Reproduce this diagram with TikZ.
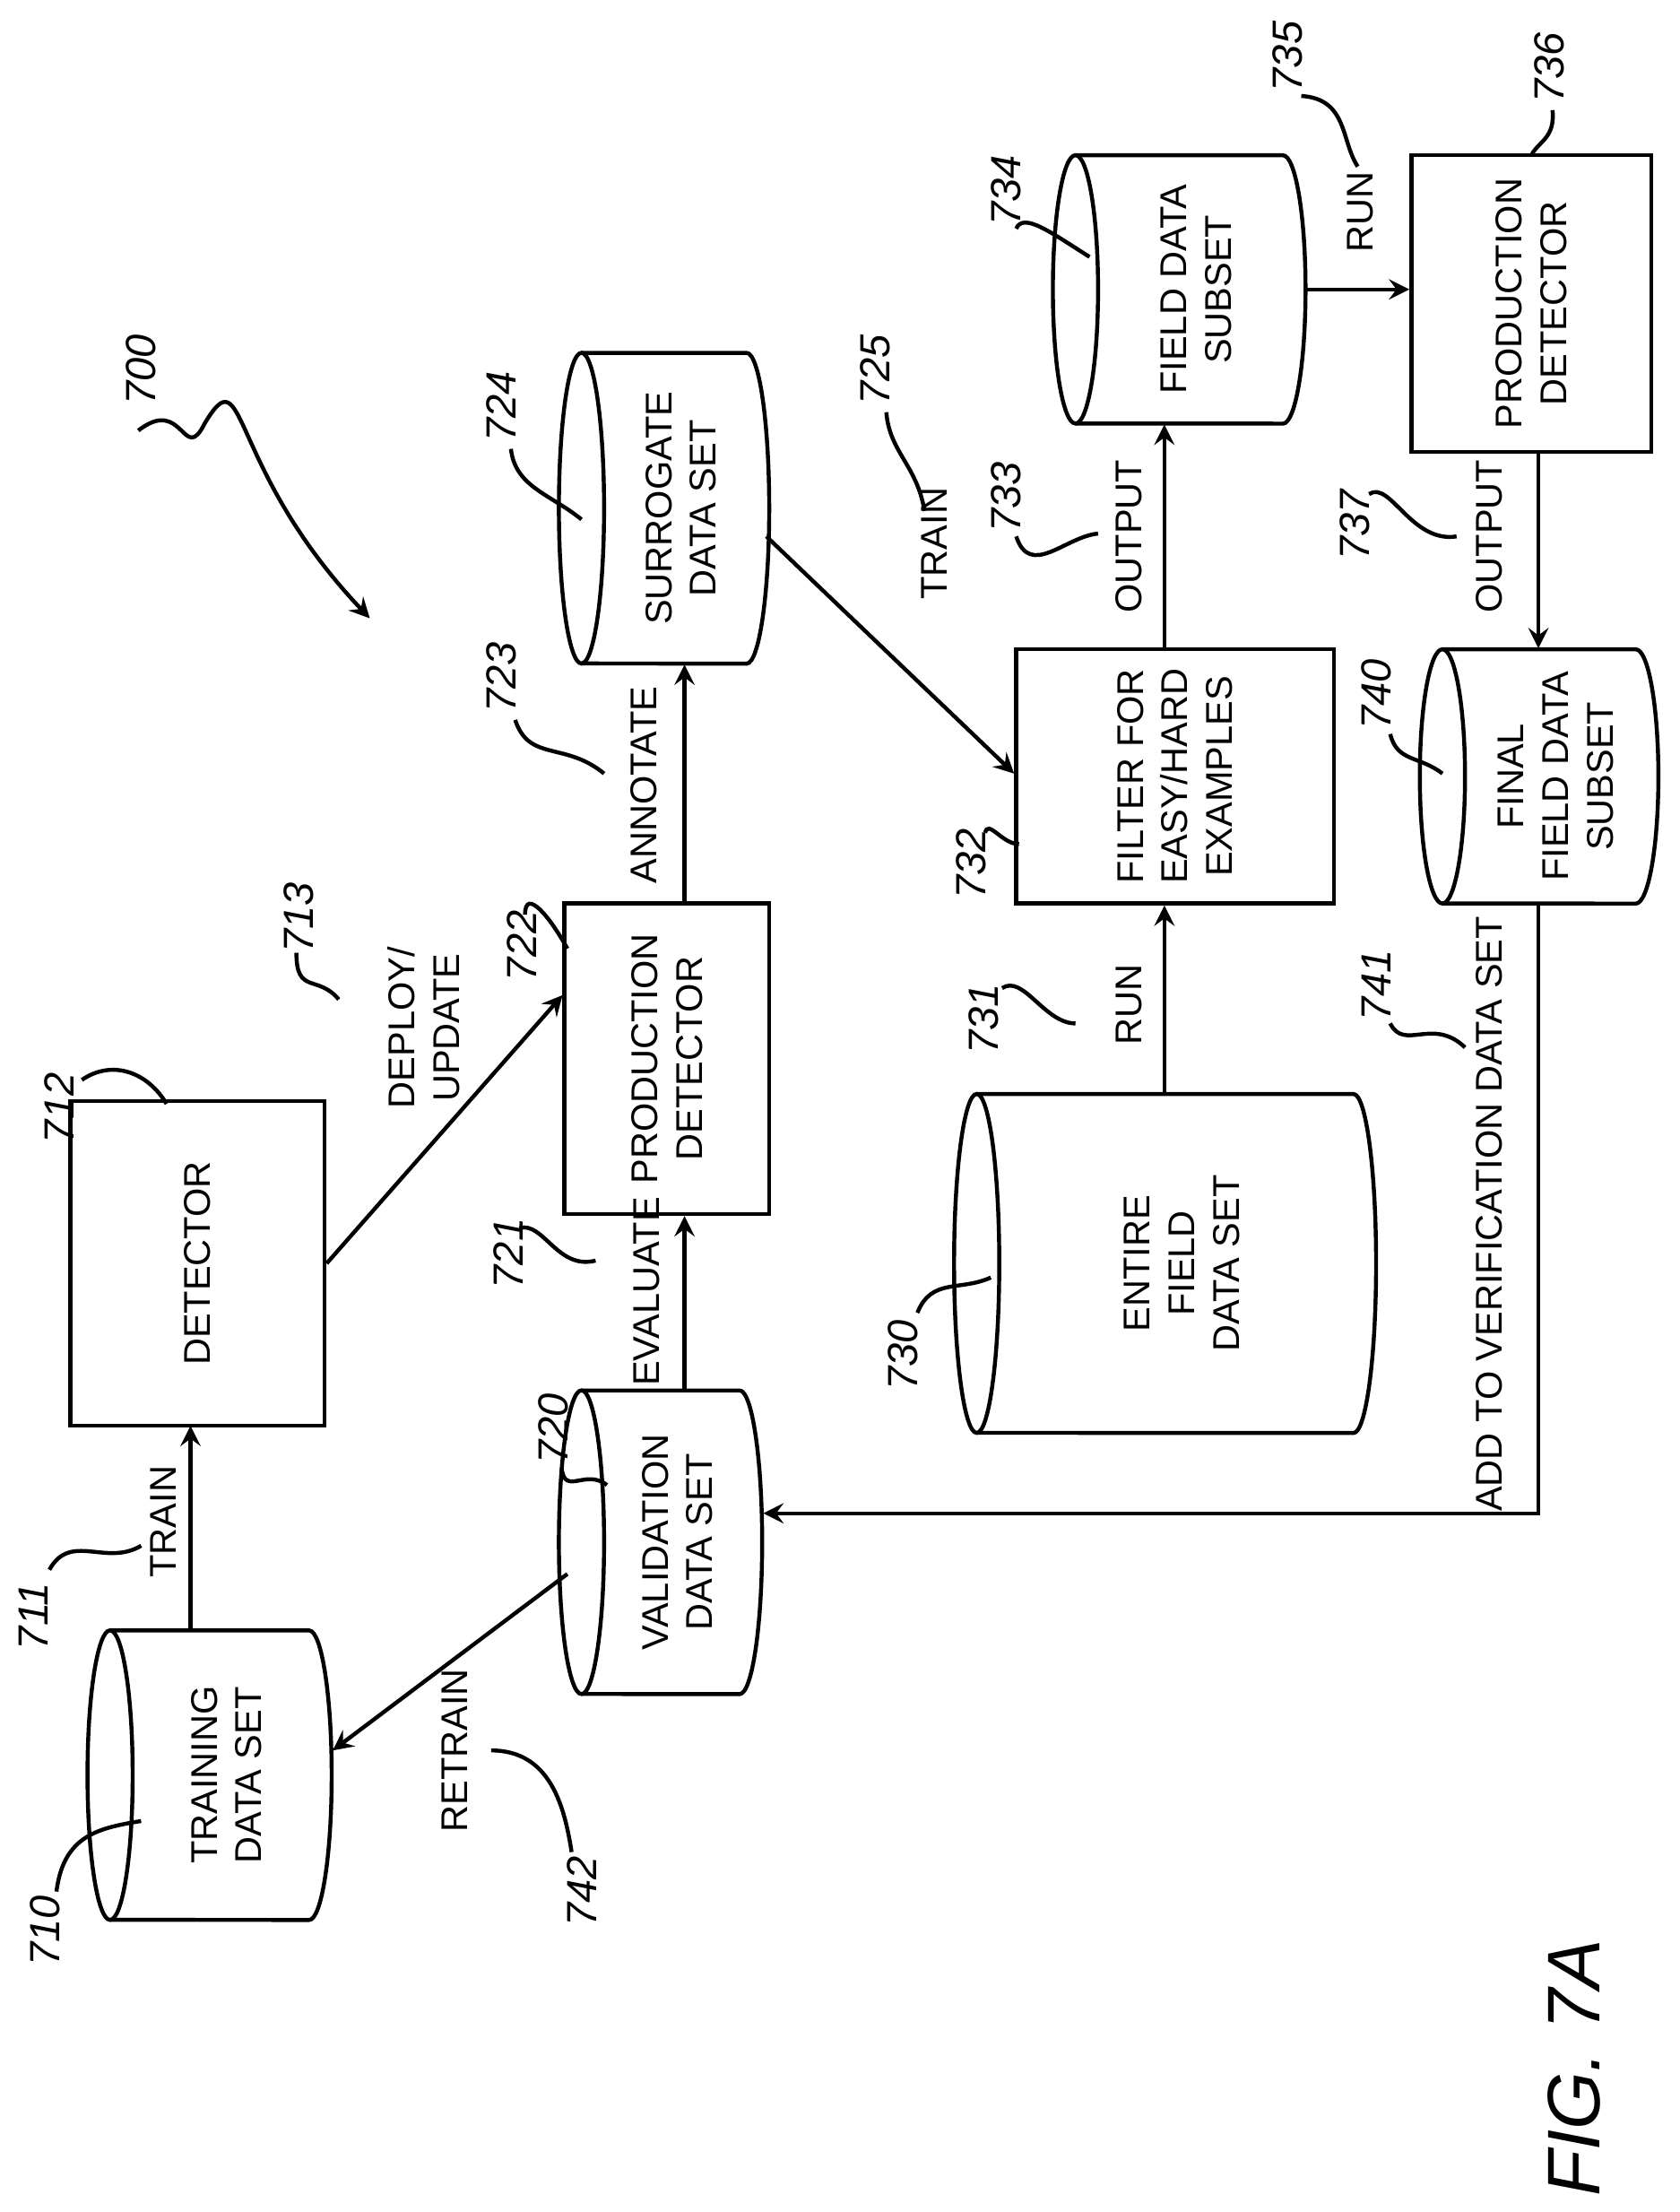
\documentclass[tikz,border=0pt]{standalone}
\usepackage{fontspec}
\setmainfont{Liberation Sans}
\usetikzlibrary{arrows,positioning}
\tikzstyle{arrow} = [thick,->,>=stealth]
\tikzstyle{lbl} = [rotate=90,align=center,font=\fontsize{7.5}{9}\selectfont]
\tikzstyle{num} = [rotate=90,font=\fontsize{8.5}{10}\selectfont\itshape]
\tikzstyle{lead} = [thick]
% drum: name, left x, right x, top y, bottom y, text
\newcommand{\drum}[6]{%
  \pgfmathsetmacro\dry{(#5-#4)/200}%
  \pgfmathsetmacro\drw{(#3-#2+16)/100}%
  \pgfmathsetmacro\drh{(#5-#4)/100}%
  \draw[thick] (#2,#4) -- (#3-16,#4) arc[start angle=90,end angle=-90,x radius=0.16cm,y radius=\dry cm] -- (#2,#5);
  \draw[thick] (#2,{(#4+#5)/2}) ellipse [x radius=0.16cm,y radius=\dry cm];
  \node[minimum width=\drw cm,minimum height=\drh cm,inner sep=0] (#1) at ({(#2-16+#3)/2},{(#4+#5)/2}) {};
  \node[lbl] at ({(#2+#3)/2+4},{(#4+#5)/2}) {#6};}
% box: name, left x, right x, top y, bottom y, text
\newcommand{\unit}[6]{%
  \pgfmathsetmacro\drw{(#3-#2)/100}%
  \pgfmathsetmacro\drh{(#5-#4)/100}%
  \node[draw,thick,minimum width=\drw cm,minimum height=\drh cm,inner sep=0] (#1) at ({(#2+#3)/2},{(#4+#5)/2}) {};
  \node[lbl] at (#1) {#6};}

\begin{document}
\begin{tikzpicture}[x=0.01cm,y=-0.01cm]
\useasboundingbox (0,0) rectangle (1190,1567);

% stores
\drum{train}{78}{235}{1155}{1360}{TRAINING\\DATA SET}
\drum{valid}{412}{540}{985}{1200}{VALIDATION\\DATA SET}
\drum{surr}{412}{545}{250}{470}{SURROGATE\\DATA SET}
\drum{field}{692}{975}{775}{1015}{ENTIRE\\FIELD\\DATA SET}
\drum{subset}{762}{925}{110}{300}{FIELD DATA\\SUBSET}
\drum{final}{1022}{1175}{460}{640}{FINAL\\FIELD DATA\\SUBSET}

% boxes
\unit{det}{50}{230}{780}{1010}{DETECTOR}
\unit{prod}{400}{545}{640}{860}{PRODUCTION\\DETECTOR}
\unit{filt}{720}{945}{460}{640}{FILTER FOR\\EASY/HARD\\EXAMPLES}
\unit{prodb}{1000}{1170}{110}{320}{PRODUCTION\\DETECTOR}

% connectors
\draw[arrow] (135,1155) -- (135,1010);
\node[lbl] at (116,1078) {TRAIN};
\draw[arrow] (det.east |- 0,895) -- (prod.west |- 0,705);
\node[lbl] at (300,728) {DEPLOY/\\UPDATE};
\draw[arrow] (valid.north -| 485,0) -- (prod.south -| 485,0);
\node[lbl] at (458,915) {EVALUATE};
\draw[arrow] (prod.north -| 485,0) -- (surr.south -| 485,0);
\node[lbl] at (456,556) {ANNOTATE};
\draw[arrow] (543,380) -- (filt.west |- 0,548);
\node[lbl] at (662,385) {TRAIN};
\draw[arrow] (field.north -| 825,0) -- (filt.south -| 825,0);
\node[lbl] at (800,712) {RUN};
\draw[arrow] (filt.north -| 825,0) -- (subset.south -| 825,0);
\node[lbl] at (800,380) {OUTPUT};
\draw[arrow] (subset.east |- 0,205) -- (prodb.west |- 0,205);
\node[lbl] at (964,150) {RUN};
\draw[arrow] (prodb.south -| 1090,0) -- (final.north -| 1090,0);
\node[lbl] at (1055,380) {OUTPUT};
\coordinate (turn) at (1090,1072);
\draw[arrow] (final.south -| 1090,0) -- (turn) -- (valid.east |- turn);
\node[lbl] at (1055,860) {ADD TO VERIFICATION DATA SET};
\draw[arrow] (402,1115) -- (train.east |- 0,1240);
\node[lbl] at (322,1240) {RETRAIN};

% reference numerals
\node[num] at (32,1368) {710};
\draw[lead] (40,1340) .. controls (45,1300) and (70,1295) .. (100,1290);
\node[num] at (24,1145) {711};
\draw[lead] (35,1112) .. controls (50,1085) and (75,1110) .. (100,1095);
\node[num] at (42,785) {712};
\draw[lead] (58,765) .. controls (80,750) and (105,760) .. (118,782);
\node[num] at (212,650) {713};
\draw[lead] (210,675) .. controls (210,705) and (225,690) .. (240,708);
\node[num] at (392,1012) {720};
\draw[lead] (398,1040) .. controls (400,1060) and (415,1040) .. (430,1052);
\node[num] at (360,888) {721};
\draw[lead] (368,870) .. controls (385,865) and (395,900) .. (422,893);
\node[num] at (370,670) {722};
\draw[lead] (372,648) .. controls (372,628) and (390,650) .. (402,672);
\node[num] at (355,480) {723};
\draw[lead] (365,510) .. controls (375,540) and (400,525) .. (428,548);
\node[num] at (355,288) {724};
\draw[lead] (362,318) .. controls (365,345) and (390,350) .. (412,368);
\node[num] at (620,262) {725};
\draw[lead] (628,292) .. controls (630,320) and (650,330) .. (655,362);
\node[num] at (640,960) {730};
\draw[lead] (650,930) .. controls (660,905) and (680,915) .. (702,905);
\node[num] at (697,722) {731};
\draw[lead] (710,700) .. controls (725,690) and (740,725) .. (762,725);
\node[num] at (688,612) {732};
\draw[lead] (698,590) .. controls (700,580) and (710,598) .. (722,598);
\node[num] at (713,352) {733};
\draw[lead] (720,380) .. controls (730,410) and (755,380) .. (778,378);
\node[num] at (713,135) {734};
\draw[lead] (720,162) .. controls (725,150) and (745,165) .. (772,182);
\node[num] at (912,40) {735};
\draw[lead] (922,68) .. controls (955,70) and (950,100) .. (962,118);
\node[num] at (1098,48) {736};
\draw[lead] (1100,78) .. controls (1102,98) and (1090,100) .. (1085,110);
\node[num] at (960,372) {737};
\draw[lead] (970,350) .. controls (985,340) and (1000,385) .. (1032,380);
\node[num] at (975,492) {740};
\draw[lead] (985,520) .. controls (990,540) and (1005,535) .. (1022,548);
\node[num] at (975,698) {741};
\draw[lead] (985,725) .. controls (995,745) and (1015,720) .. (1038,742);
\node[num] at (412,1340) {742};
\draw[lead] (405,1312) .. controls (400,1280) and (390,1240) .. (348,1240);
\node[num] at (100,262) {700};
\draw[arrow] (98,305) .. controls (130,280) and (130,330) .. (145,300) .. controls (175,250) and (160,330) .. (262,438);

\node[rotate=90,font=\fontsize{15}{18}\selectfont\itshape] at (1115,1465) {FIG. 7A};
\end{tikzpicture}
\end{document}
